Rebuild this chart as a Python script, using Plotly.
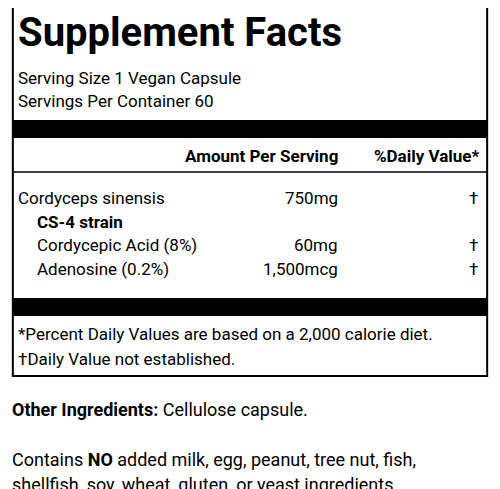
import plotly.graph_objects as go

title = "Supplement Facts"
serving_lines = ["Serving Size 1 Vegan Capsule", "Servings Per Container 60"]
header_amount = "Amount Per Serving"
header_dv = "%Daily Value*"
ingredients = ["Cordyceps sinensis", "<b>CS-4 strain</b>", "Cordycepic Acid (8%)", "Adenosine (0.2%)"]
indent = [False, True, True, True]
amounts = ["750mg", "", "60mg", "1,500mcg"]
daily_values = ["†", "", "†", "†"]
footnotes = ["*Percent Daily Values are based on a 2,000 calorie diet.", "†Daily Value not established."]
below_lines = ["<b>Other Ingredients:</b> Cellulose capsule.", "",
               "Contains <b>NO</b> added milk, egg, peanut, tree nut, fish,",
               "shellfish, soy, wheat, gluten, or yeast ingredients."]

FONT = "Liberation Sans Narrow, Roboto, sans-serif"
fig = go.Figure()

def txt(x, y, s, size=17, anchor="left"):
    fig.add_annotation(x=x, y=y, text=s, showarrow=False, xanchor=anchor, yanchor="middle",
                       font=dict(family=FONT, size=size, color="black"))

# label box and bars
fig.add_shape(type="rect", x0=5, x1=495, y0=-5, y1=368, line=dict(color="black", width=2))
fig.add_shape(type="rect", x0=5, x1=495, y0=112, y1=130, fillcolor="black", line_width=0)
fig.add_shape(type="line", x0=5, x1=495, y0=164, y1=164, line=dict(color="black", width=1.5))
fig.add_shape(type="rect", x0=5, x1=495, y0=290, y1=308, fillcolor="black", line_width=0)

txt(8, 24, "<b>" + title + "</b>", size=40)
for i, s in enumerate(serving_lines):
    txt(8, 70 + i * 23, s)
txt(343, 148, "<b>" + header_amount + "</b>", anchor="right")
txt(490, 148, "<b>" + header_dv + "</b>", anchor="right")
for i, name in enumerate(ingredients):
    y = 190 + i * 23.5
    txt(28 if indent[i] else 8, y, name)
    if amounts[i]:
        txt(343, y, amounts[i], anchor="right")
    if daily_values[i]:
        txt(488, y, daily_values[i], anchor="right")
for i, s in enumerate(footnotes):
    txt(8, 326 + i * 25, s)
for i, s in enumerate(below_lines):
    if s:
        txt(2, 401 + i * 25, s, size=18)

fig.update_xaxes(range=[0, 500], visible=False)
fig.update_yaxes(range=[489, 0], visible=False)
fig.update_layout(margin=dict(l=0, r=0, t=0, b=0),
                  plot_bgcolor="white", paper_bgcolor="white", showlegend=False)
fig.write_html("out.html", default_width="100%", default_height="100vh",
               config=dict(displayModeBar=False))
